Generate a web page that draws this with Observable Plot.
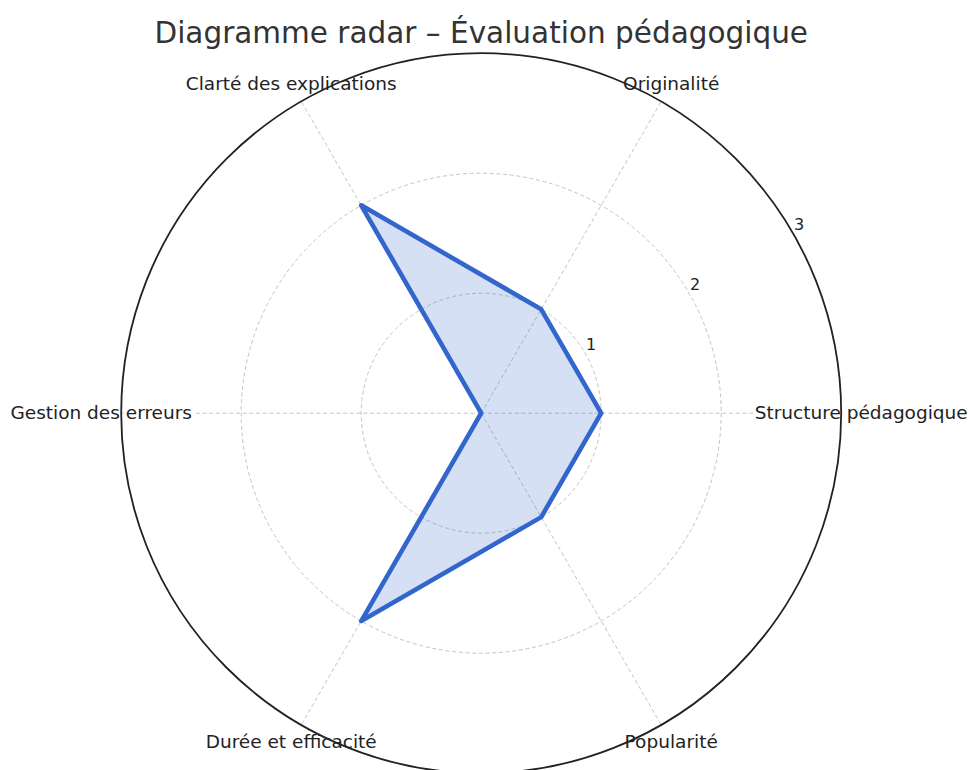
<!DOCTYPE html>
<html>
<head>
<meta charset="utf-8">
<script src="https://cdn.jsdelivr.net/npm/d3@7"></script>
<script src="https://cdn.jsdelivr.net/npm/@observablehq/plot@0.6"></script>
<style>
  body { margin: 0; background: #ffffff; }
  #chart svg { display: block; }
</style>
</head>
<body>
<div id="chart"></div>
<script>
// ---- data ----
const categories = ["Structure pédagogique", "Originalité", "Clarté des explications", "Gestion des erreurs", "Durée et efficacité", "Popularité"];
const values = [1, 1, 2, 0, 2, 1];
const gridLevels = [1, 2, 3];
const tickLabels = ["1", "2", "3"];
const title = "Diagramme radar – Évaluation pédagogique";

// ---- layout ----
const W = 968, H = 770;
const cx = 480.7, cy = 412.7, unit = 120;   // pixel center and pixels per unit
const rMax = 3;
const labelPad = 20 / unit;
const tickAngle = Math.PI / 6;
const angle = i => (i * 2 * Math.PI) / categories.length;
const pts = categories.map((c, i) => ({c, v: values[i], a: angle(i)}));
const font = "DejaVu Sans, Verdana, sans-serif";

const chart = Plot.plot({
  width: W,
  height: H,
  marginTop: 0, marginRight: 0, marginBottom: 0, marginLeft: 0,
  style: {fontFamily: font, background: "#ffffff"},
  x: {domain: [-cx / unit, (W - cx) / unit], axis: null},
  y: {domain: [-(H - cy) / unit, cy / unit], axis: null},
  r: {type: "linear", domain: [0, rMax], range: [0, rMax * unit]},
  marks: [
    // dashed grid circles
    Plot.dot(gridLevels.filter(l => l < rMax), {
      x: () => 0, y: () => 0, r: d => d,
      fill: "none", stroke: "#c4c4c4", strokeWidth: 1, strokeDasharray: "4,2.7"
    }),
    // spokes
    Plot.link(pts, {
      x1: () => 0, y1: () => 0,
      x2: d => rMax * Math.cos(d.a), y2: d => rMax * Math.sin(d.a),
      stroke: "#c4c4c4", strokeWidth: 1, strokeDasharray: "4,2.7"
    }),
    // radar polygon
    Plot.line(pts, {
      x: d => d.v * Math.cos(d.a), y: d => d.v * Math.sin(d.a),
      curve: "linear-closed",
      fill: "#3366cc", fillOpacity: 0.2,
      stroke: "#3366cc", strokeWidth: 4.6, strokeLinejoin: "round"
    }),
    // radial tick labels
    Plot.text(gridLevels, {
      x: d => d * Math.cos(tickAngle), y: d => d * Math.sin(tickAngle),
      text: (d, i) => tickLabels[i],
      dx: 6, dy: -8, fontSize: 16, fill: "#222", fontFamily: font
    }),
    // category labels
    Plot.text(pts, {
      x: d => (rMax + labelPad) * Math.cos(d.a), y: d => (rMax + labelPad) * Math.sin(d.a),
      text: d => d.c,
      textAnchor: "middle", lineAnchor: "middle",
      fontSize: 18.5, fill: "#222", fontFamily: font,
      stroke: "#ffffff", strokeWidth: 6, paintOrder: "stroke"
    }),
    // outer circle
    Plot.dot([rMax], {
      x: () => 0, y: () => 0, r: d => d,
      fill: "none", stroke: "#222", strokeWidth: 1.8
    }),
    // title
    Plot.text([title], {
      frameAnchor: "top", lineAnchor: "middle", dx: -3.3, dy: 33,
      text: d => d, fontSize: 29.5, fill: "#333", fontFamily: font
    })
  ]
});
document.getElementById("chart").appendChild(chart);
</script>
</body>
</html>
